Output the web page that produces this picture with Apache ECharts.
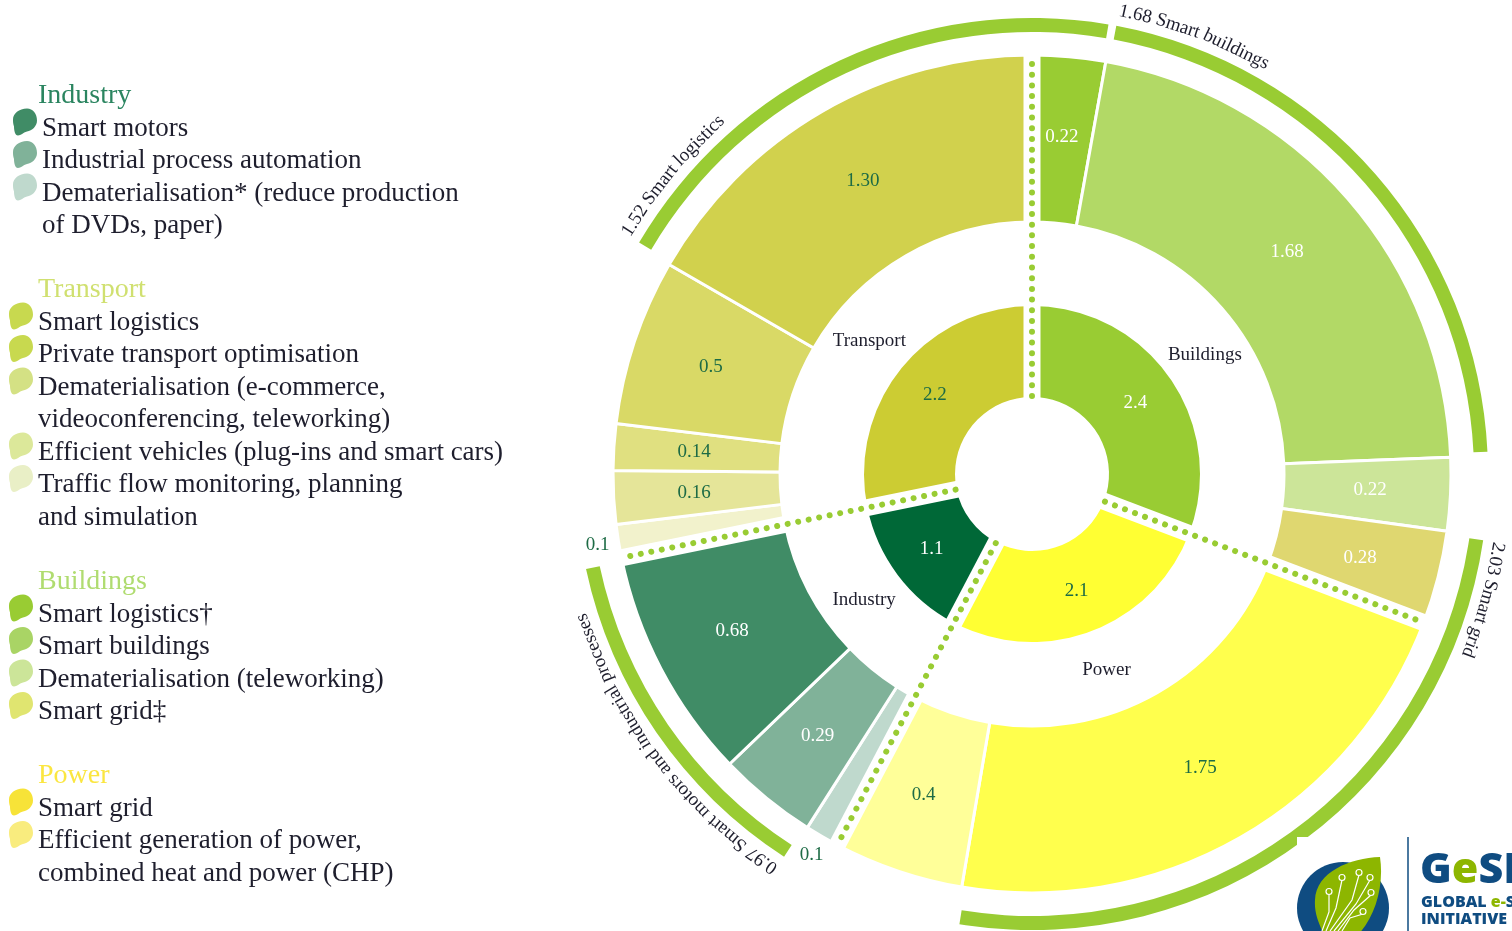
<!DOCTYPE html>
<html lang="en">
<head>
    <meta charset="UTF-8">
    <title>GeSI abatement by sector</title>
    <style>
        html, body {
            margin: 0;
            background: #fff;
            overflow: hidden;
        }
        #J-chart {
            width: 1512px;
            height: 931px;
        }
    </style>
</head>
<body>
<div id="J-chart"></div>
<script src="https://cdn.jsdelivr.net/npm/echarts@6/dist/echarts.min.js"></script>
<script>
    // inner ring, clockwise from the top
    var sectorNames = ['Buildings', 'Power', 'Industry', 'Transport'];
    var sectorValues = [2.4, 2.1, 1.1, 2.2];
    var sectorLabels = ['2.4', '2.1', '1.1', '2.2'];

    // outer ring, clockwise inside each sector
    var buildingsItems = ['Smart logistics†', 'Smart buildings', 'Dematerialisation (teleworking)', 'Smart grid‡'];
    var buildingsValues = [0.22, 1.68, 0.22, 0.28];
    var buildingsLabels = ['0.22', '1.68', '0.22', '0.28'];

    var powerItems = ['Smart grid', 'Efficient generation of power, combined heat and power (CHP)'];
    var powerValues = [1.75, 0.4];
    var powerLabels = ['1.75', '0.4'];

    var industryItems = ['Dematerialisation', 'Industrial process automation', 'Smart motors'];
    var industryValues = [0.1, 0.29, 0.68];
    var industryLabels = ['0.1', '0.29', '0.68'];

    var transportItems = ['Traffic flow monitoring', 'Efficient vehicles', 'Dematerialisation', 'Private transport optimisation', 'Smart logistics'];
    var transportValues = [0.1, 0.16, 0.14, 0.5, 1.3];
    var transportLabels = ['0.1', '0.16', '0.14', '0.5', '1.30'];

    // green arcs round the outside
    var arcLabels = ['1.68 Smart buildings', '2.03 Smart grid', '0.97 Smart motors and industrial processes', '1.52 Smart logistics'];
    var arcValues = [1.68, 2.03, 0.97, 1.52];

    // legend text, one inner array per keyed entry
    var industryLegend = [['Smart motors'], ['Industrial process automation'], ['Dematerialisation* (reduce production', 'of DVDs, paper)']];
    var transportLegend = [['Smart logistics'], ['Private transport optimisation'], ['Dematerialisation (e-commerce,', 'videoconferencing, teleworking)'], ['Efficient vehicles (plug-ins and smart cars)'], ['Traffic flow monitoring, planning', 'and simulation']];
    var buildingsLegend = [['Smart logistics†'], ['Smart buildings'], ['Dematerialisation (teleworking)'], ['Smart grid‡']];
    var powerLegend = [['Smart grid'], ['Efficient generation of power,', 'combined heat and power (CHP)']];

    var SERIF = '"Liberation Serif", serif';
    var CX = 1032, CY = 474;
    var DARK = '#1d6b45', INK = '#1e1e2d', ARC_GREEN = '#99cc33';

    var sectorColors = ['#99cc33', '#ffff33', '#006837', '#cccc33'];
    var outerGroups = [
        {items: buildingsItems, values: buildingsValues, labels: buildingsLabels,
            colors: ['#99cc33', '#b2d966', '#cce599', '#dfd770'], text: ['#fff', '#fff', '#fff', '#fff']},
        {items: powerItems, values: powerValues, labels: powerLabels,
            colors: ['#ffff4d', '#ffff99'], text: [DARK, DARK]},
        {items: industryItems, values: industryValues, labels: industryLabels,
            colors: ['#bfd9cd', '#80b299', '#408c66'], text: [DARK, '#fff', '#fff']},
        {items: transportItems, values: transportValues, labels: transportLabels,
            colors: ['#f2f2cc', '#e5e599', '#e0e080', '#d9d966', '#d1d14d'], text: [DARK, DARK, DARK, DARK, DARK]}
    ];

    // graphic elements have no svg path type, so curved outlines get their own shape
    echarts.graphic.registerShape('blob', echarts.graphic.extendShape({
        shape: {start: [0, 0], curves: []},
        buildPath: function (ctx, shape) {
            ctx.moveTo(shape.start[0], shape.start[1]);
            shape.curves.forEach(function (c) {
                ctx.bezierCurveTo(c[0], c[1], c[2], c[3], c[4], c[5]);
            });
            ctx.closePath();
        }
    }));

    function sum(list) {
        return list.reduce(function (a, b) { return a + b; }, 0);
    }

    var sectorTotal = sum(sectorValues);
    var series = [];
    var boundaries = [];
    var groupLabels = [];
    var smallLabels = [];
    var edges = [];   // slice edges per sector, in degrees clockwise from the top
    var cursor = 0;

    sectorValues.forEach(function (value, i) {
        var sweep = value / sectorTotal * 360;
        var group = outerGroups[i];
        var groupSum = sum(group.values);
        var at = cursor;
        var groupEdges = [at];

        group.values.forEach(function (v, j) {
            var next = at + v / groupSum * sweep;
            groupEdges.push(next);
            if (group.labels[j] === '0.1') {
                smallLabels.push({value: [440, (at + next) / 2], name: group.labels[j]});
            }
            at = next;
        });
        edges.push(groupEdges);

        series.push({
            type: 'pie',
            silent: true,
            center: [CX, CY],
            radius: [252, 419],
            startAngle: 90 - cursor,
            endAngle: 90 - cursor - sweep,
            avoidLabelOverlap: false,
            label: {show: false},
            labelLine: {show: false},
            itemStyle: {borderColor: '#fff', borderWidth: 3},
            data: group.values.map(function (v, j) {
                return {
                    name: group.items[j],
                    value: v,
                    itemStyle: {color: group.colors[j]},
                    label: {
                        show: group.labels[j] !== '0.1',
                        position: 'inside',
                        formatter: group.labels[j],
                        color: group.text[j],
                        fontFamily: SERIF,
                        fontSize: 19
                    }
                };
            })
        });

        groupLabels.push({value: [210, cursor + sweep / 2], name: sectorNames[i]});
        boundaries.push(cursor);
        cursor += sweep;
    });

    // inner ring
    series.push({
        type: 'pie',
        silent: true,
        center: [CX, CY],
        radius: [77, 168],
        startAngle: 90,
        avoidLabelOverlap: false,
        labelLine: {show: false},
        data: sectorValues.map(function (v, i) {
            return {
                name: sectorNames[i],
                value: v,
                itemStyle: {color: sectorColors[i]},
                label: {
                    show: true,
                    position: 'inside',
                    formatter: sectorLabels[i],
                    color: i === 2 || i === 0 ? '#fff' : DARK,
                    fontFamily: SERIF,
                    fontSize: 19
                }
            };
        })
    });

    // arcs span the slices they add up
    var arcSpans = [
        [edges[0][1], edges[0][2]],
        [edges[0][3], edges[1][1]],
        [edges[2][1], edges[2][3]],
        [edges[3][4], edges[0][1] + 360]
    ];
    var arcWordData = [];

    var measureCtx = document.createElement('canvas').getContext('2d');
    measureCtx.font = '19px "Liberation Serif"';

    arcSpans.forEach(function (span, i) {
        series.push({
            type: 'pie',
            silent: true,
            center: [CX, CY],
            radius: [442, 456],
            startAngle: 90 - span[0] - 0.5,
            endAngle: 90 - span[1] + 0.5,
            label: {show: false},
            labelLine: {show: false},
            data: [{name: arcLabels[i], value: arcValues[i], itemStyle: {color: ARC_GREEN}}]
        });

        // the text follows the curve word by word, starting where the arc starts
        var r = 471;
        var at = span[0] + 0.5;
        arcLabels[i].split(' ').forEach(function (word) {
            var w = measureCtx.measureText(word).width / r * 180 / Math.PI;
            var mid = at + w / 2;
            arcWordData.push({value: [r, mid % 360], name: word, label: {rotate: -mid}});
            at += w + measureCtx.measureText(' ').width / r * 180 / Math.PI;
        });
    });

    // white channel and green dots between the sectors
    boundaries.forEach(function (angle) {
        series.push({
            type: 'line',
            coordinateSystem: 'polar',
            silent: true,
            symbol: 'none',
            z: 3,
            clip: false,
            lineStyle: {color: '#fff', width: 17},
            data: [[70, angle], [432, angle]]
        });
        series.push({
            type: 'line',
            coordinateSystem: 'polar',
            silent: true,
            symbol: 'none',
            z: 4,
            clip: false,
            lineStyle: {color: ARC_GREEN, width: 6, cap: 'round', type: [0.01, 10.7]},
            data: [[78, angle], [420, angle]]
        });
    });

    function textSeries(data, fontSize, color) {
        return {
            type: 'scatter',
            coordinateSystem: 'polar',
            silent: true,
            symbolSize: 1,
            z: 5,
            clip: false,
            itemStyle: {color: 'transparent', opacity: 1},
            label: {
                show: true,
                position: 'inside',
                formatter: '{b}',
                fontFamily: SERIF,
                fontSize: fontSize,
                color: color
            },
            data: data
        };
    }

    series.push(textSeries(groupLabels, 19, INK));
    series.push(textSeries(smallLabels, 19, DARK));
    series.push(textSeries(arcWordData, 19, INK));

    // legend on the left
    var graphics = [];
    var LEAF_START = [14, 0];
    var LEAF_CURVES = [[20, 0, 24, 5, 24, 12], [24, 18, 19, 22, 14, 23], [10, 24, 8, 27, 5, 27], [2, 27, 1, 22, 1, 18], [0, 15, 0, 13, 0, 11], [0, 5, 6, 0, 14, 0]];

    function addLegend(title, titleColor, titleY, textX, entries, colors) {
        graphics.push({
            type: 'text', x: 38, y: titleY, silent: true,
            style: {text: title, font: '28px ' + SERIF, fill: titleColor, textVerticalAlign: 'middle'}
        });
        var y = titleY;
        var k = 0;
        entries.forEach(function (lines) {
            y += 32.5;
            graphics.push({
                type: 'blob', silent: true, x: textX - 29, y: y - 20,
                shape: {start: LEAF_START, curves: LEAF_CURVES},
                style: {fill: colors[k++]}
            });
            lines.forEach(function (line, n) {
                if (n > 0) {
                    y += 32.5;
                }
                graphics.push({
                    type: 'text', x: textX, y: y, silent: true,
                    style: {text: line, font: '27px ' + SERIF, fill: INK, textVerticalAlign: 'middle'}
                });
            });
        });
    }

    addLegend('Industry', '#2b8560', 96, 42, industryLegend, ['#408c66', '#80b299', '#bfd9cd']);
    addLegend('Transport', '#d0e070', 290, 38, transportLegend, ['#c8d94f', '#c8d94f', '#d4e184', '#dce89a', '#e9efc6']);
    addLegend('Buildings', '#b0dc70', 582, 38, buildingsLegend, ['#99cc33', '#a9d465', '#cce599', '#e0e570']);
    addLegend('Power', '#fbe640', 776, 38, powerLegend, ['#f7e338', '#f9ec7e']);

    // logo, cut off by the bottom of the page like the original
    var LOGO_BLUE = '#0f4c81', LOGO_GREEN = '#8db600';
    var LOGO_FONT = '"Open Sans", sans-serif';
    graphics.push(
        {type: 'rect', silent: true, z: 20, shape: {x: 1297, y: 837, width: 215, height: 94}, style: {fill: '#fff'}},
        {type: 'circle', silent: true, z: 21, shape: {cx: 1343, cy: 908, r: 46}, style: {fill: LOGO_BLUE}},
        {type: 'blob', silent: true, z: 22, shape: {start: [1380, 857], curves: [[1350, 858, 1316, 872, 1315, 900], [1314, 915, 1320, 925, 1326, 940], [1335, 940, 1345, 940, 1352, 940], [1372, 925, 1385, 890, 1380, 857]]}, style: {fill: LOGO_GREEN}},
        {type: 'line', silent: true, z: 21, shape: {x1: 1408, y1: 837, x2: 1408, y2: 931}, style: {stroke: LOGO_BLUE, lineWidth: 1.5}}
    );
    [
        [[1322, 931], [1329, 912], [1329, 894]],
        [[1326, 931], [1336, 908], [1342, 880]],
        [[1330, 931], [1352, 900], [1359, 875]],
        [[1334, 931], [1356, 904], [1370, 880]],
        [[1338, 931], [1354, 910], [1371, 895]],
        [[1342, 931], [1350, 918], [1363, 914]]
    ].forEach(function (pts) {
        graphics.push({type: 'polyline', silent: true, z: 23, shape: {points: pts}, style: {stroke: '#fff', lineWidth: 1.2, fill: null}});
        var end = pts[pts.length - 1];
        graphics.push({type: 'circle', silent: true, z: 23, shape: {cx: end[0], cy: end[1] - 2.5, r: 3}, style: {stroke: '#fff', lineWidth: 1.2, fill: LOGO_GREEN}});
    });
    graphics.push(
        {type: 'text', silent: true, z: 23, x: 1420, y: 871, style: {
            text: '{a|G}{b|e}{a|SI}',
            textVerticalAlign: 'middle',
            rich: {
                a: {font: '800 43px ' + LOGO_FONT, fill: LOGO_BLUE},
                b: {font: '800 43px ' + LOGO_FONT, fill: LOGO_GREEN}
            }
        }},
        {type: 'text', silent: true, z: 23, x: 1421, y: 902, style: {
            text: '{a|GLOBAL }{b|e-}{a|S}',
            textVerticalAlign: 'middle',
            rich: {
                a: {font: '800 16px ' + LOGO_FONT, fill: LOGO_BLUE},
                b: {font: '800 16px ' + LOGO_FONT, fill: LOGO_GREEN}
            }
        }},
        {type: 'text', silent: true, z: 23, x: 1421, y: 919, style: {text: 'INITIATIVE', font: '800 16px ' + LOGO_FONT, fill: LOGO_BLUE, textVerticalAlign: 'middle'}}
    );

    var chart = echarts.init(document.getElementById('J-chart'));
    chart.setOption({
        animation: false,
        backgroundColor: '#fff',
        polar: {center: [CX, CY], radius: 500},
        angleAxis: {type: 'value', min: 0, max: 360, startAngle: 90, show: false},
        radiusAxis: {type: 'value', min: 0, max: 500, show: false},
        series: series,
        graphic: graphics
    });
</script>
</body>
</html>
